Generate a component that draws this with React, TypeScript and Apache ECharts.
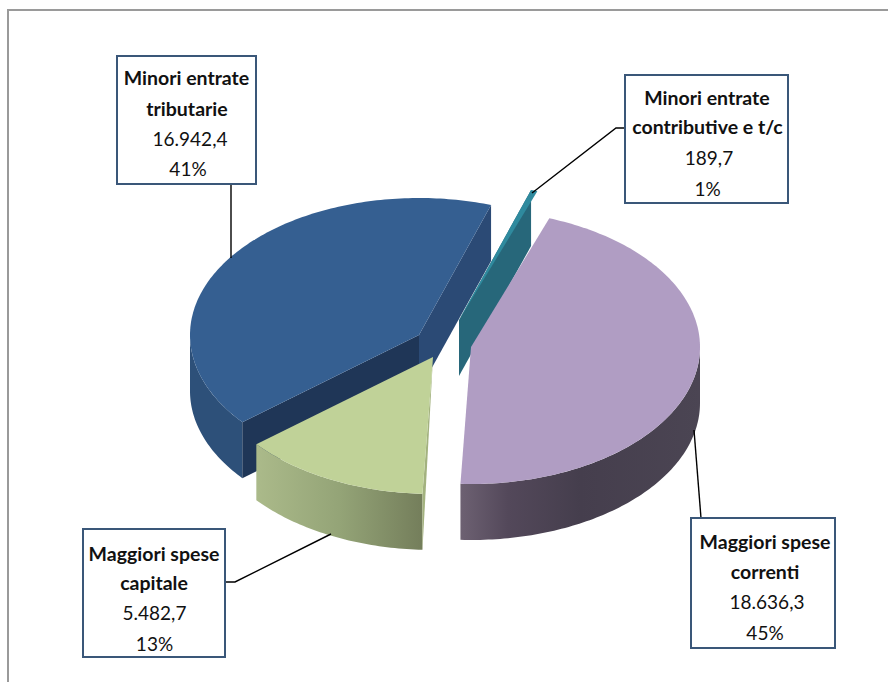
import React, { useEffect, useRef } from "react";
import * as echarts from "echarts";

const categories = ["Maggiori spese correnti", "Maggiori spese capitale", "Minori entrate tributarie", "Minori entrate contributive e t/c"];
const values = [18636.3, 5482.7, 16942.4, 189.7];
const nameLines = [
  ["Maggiori spese", "correnti"],
  ["Maggiori spese", "capitale"],
  ["Minori entrate", "tributarie"],
  ["Minori entrate", "contributive e t/c"],
];
const valueLabels = ["18.636,3", "5.482,7", "16.942,4", "189,7"];
const percentLabels = ["45%", "13%", "41%", "1%"];

const W = 888;
const H = 682;
const CX = 445;
const CY = 344;
const RX = 229;
const RY = 137;
const DEPTH = 56;
const START = 20;
const FONT = "Lato, Carlito, Calibri, sans-serif";
const explode = [[26, 3], [-12, 13], [-26, -9], [14, -24]];
const drawOrder = [2, 3, 1, 0];
const topColors = ["#b09dc3", "#c0d298", "#355f91", "#2f8a9e"];

const total = values.reduce((a, b) => a + b, 0);
const angles: number[][] = [];
let acc = START;
values.forEach((v) => {
  const sweep = (v / total) * 360;
  angles.push([acc, acc + sweep]);
  acc += sweep;
});

const boxes = [
  { x: 691, y: 518, w: 144, h: 130, lines: [541, 571, 601, 632], centers: [765, 765, 767, 765] },
  { x: 83, y: 529, w: 142, h: 128, lines: [553, 582, 612, 643], centers: [154, 154, 154.5, 154.5] },
  { x: 117, y: 56, w: 139, h: 128, lines: [77, 108, 138, 168], centers: [186.5, 187, 190, 188] },
  { x: 625, y: 75, w: 163, h: 128, lines: [97, 126, 157, 188], centers: [707, 707.5, 709, 707.5] },
];
const leaders = [
  [[694, 430], [701, 518]],
  [[331, 534], [235, 582], [225, 582]],
  [[231, 258], [231, 184]],
  [[532, 193], [616, 128], [625, 128]],
];

function pt(i: number, deg: number, drop = 0): number[] {
  const a = (deg * Math.PI) / 180;
  return [CX + explode[i][0] + RX * Math.sin(a), CY + explode[i][1] - RY * Math.cos(a) + drop];
}

function arc(i: number, from: number, to: number, drop = 0): number[][] {
  const out: number[][] = [];
  const n = Math.max(2, Math.ceil(Math.abs(to - from)));
  for (let k = 0; k <= n; k++) out.push(pt(i, from + ((to - from) * k) / n, drop));
  return out;
}

function apex(i: number, drop = 0): number[] {
  return [CX + explode[i][0], CY + explode[i][1] + drop];
}

const poly = (points: number[][], fill: any) => ({
  type: "polygon",
  shape: { points },
  style: { fill, stroke: null },
  silent: true,
});

const grad = (stops: [number, string][]) =>
  new echarts.graphic.LinearGradient(0, 0, 1, 0, stops.map(([offset, color]) => ({ offset, color })));

function wall(i: number, fill: any) {
  const a0 = Math.max(angles[i][0], 90);
  const a1 = Math.min(angles[i][1], 270);
  return poly([...arc(i, a0, a1), ...arc(i, a1, a0, DEPTH)], fill);
}

function renderSlice(params: any) {
  const i = drawOrder[params.dataIndex];
  const [a0, a1] = angles[i];
  const top = poly([apex(i), ...arc(i, a0, a1)], topColors[i]);
  const children: any[] = [];
  if (i === 2) {
    children.push(wall(i, "#2d5079"));
    children.push(poly([apex(i), pt(i, a1), pt(i, a1, DEPTH), apex(i, DEPTH)], "#2b4a75"));
    children.push(poly([apex(i), pt(i, a0), pt(i, a0, DEPTH), apex(i, DEPTH)], "#1f3657"));
  } else if (i === 3) {
    children.push(poly([apex(i), pt(i, a0), pt(i, a0, DEPTH), apex(i, DEPTH)], "#27677a"));
  } else if (i === 1) {
    children.push(wall(i, grad([[0, "#abba8a"], [0.5, "#94a477"], [1, "#747e5b"]])));
    children.push(poly([apex(i), pt(i, a0), pt(i, a0, DEPTH)], "#a3b27f"));
  } else {
    children.push(wall(i, grad([[0, "#6d6172"], [0.2, "#53485a"], [0.5, "#453e4d"], [1, "#4b4553"]])));
  }
  children.push(top);
  return { type: "group", children };
}

const labelTexts = categories.flatMap((_, i) => {
  const box = boxes[i];
  const rows = [...nameLines[i], valueLabels[i], percentLabels[i]];
  return [
    {
      type: "rect",
      shape: { x: box.x, y: box.y, width: box.w, height: box.h },
      style: { fill: "#ffffff", stroke: "#3a5779", lineWidth: 2 },
      silent: true,
      z: 20,
    },
    ...rows.map((text, r) => ({
      type: "text",
      x: box.centers[r],
      y: box.lines[r],
      style: {
        text,
        font: r < 2 ? `bold 19.5px ${FONT}` : `19px ${FONT}`,
        fill: "#111111",
        align: "center",
        verticalAlign: "middle",
      },
      silent: true,
      z: 21,
    })),
  ];
});

const leaderLines = leaders.map((points) => ({
  type: "polyline",
  shape: { points },
  style: { fill: null, stroke: "#000000", lineWidth: 1.4 },
  silent: true,
  z: 15,
}));

export default function App() {
  const ref = useRef<HTMLDivElement>(null);
  useEffect(() => {
    const chart = echarts.init(ref.current!, undefined, { renderer: "svg" });
    chart.setOption({
      animation: false,
      backgroundColor: "#ffffff",
      series: [
        {
          type: "custom",
          coordinateSystem: "none",
          silent: true,
          data: drawOrder.map((i) => values[i]),
          renderItem: renderSlice,
        },
      ],
      graphic: [
        {
          type: "polyline",
          shape: { points: [[8, H], [8, 10], [W, 10]] },
          style: { fill: null, stroke: "#9a9a9a", lineWidth: 2 },
          silent: true,
        },
        ...leaderLines,
        ...labelTexts,
      ],
    });
    return () => chart.dispose();
  }, []);
  return <div ref={ref} style={{ position: "absolute", left: 0, top: 0, width: W, height: H }} />;
}
